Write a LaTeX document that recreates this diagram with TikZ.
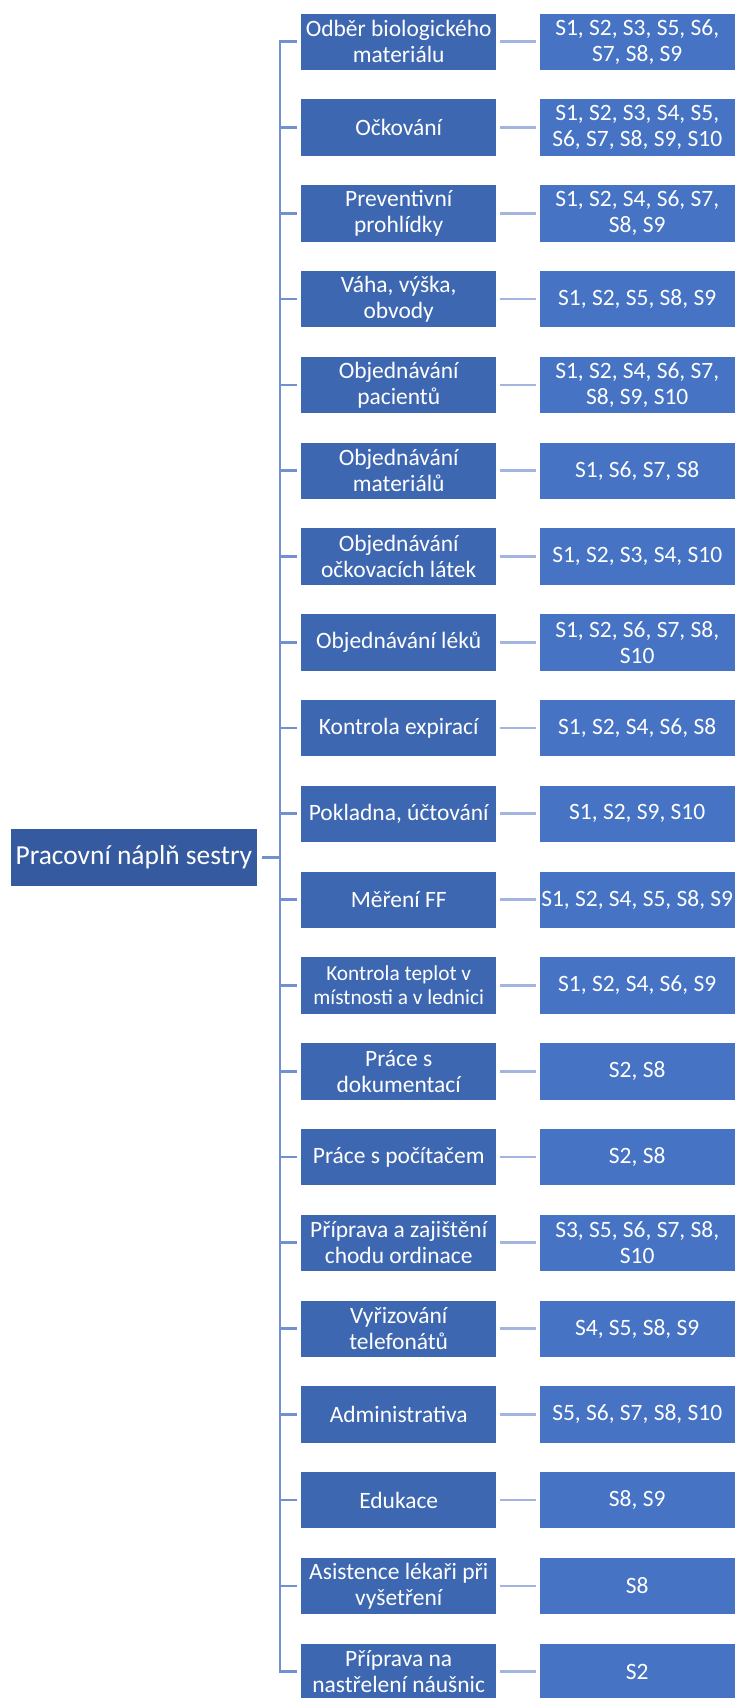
\documentclass[tikz,border=0pt]{standalone}
\usepackage{fontspec}
\setmainfont{Carlito}

\definecolor{rootblue}{HTML}{355A9F}
\definecolor{taskblue}{HTML}{3E67B1}
\definecolor{nurseblue}{HTML}{4673C4}
\definecolor{trunkblue}{HTML}{7090D0}
\definecolor{linkblue}{HTML}{A3B5DF}

\tikzset{
  rootbox/.style={fill=rootblue, draw=white, line width=0.5pt, text=white, inner sep=0pt,
    minimum width=185.8pt, minimum height=43.3pt, font=\fontsize{20.6}{24}\selectfont},
  taskbox/.style={fill=taskblue, draw=white, line width=0.5pt, text=white, inner sep=0pt,
    minimum width=147pt, minimum height=43pt, align=center, font=\fontsize{17.6}{19.5}\selectfont},
  nursebox/.style={taskbox, fill=nurseblue},
  trunk/.style={draw=trunkblue, line width=2pt},
  link/.style={draw=linkblue, line width=2pt, shorten <=2pt, shorten >=2.5pt},
}

\begin{document}
\begin{tikzpicture}[x=0.75pt,y=0.75pt,yscale=-1,xscale=1]
\useasboundingbox (0,0) rectangle (736,1698);

% Root
\node[rootbox] (root) at (133.9,857.2) {Pracovní náplň sestry};
\coordinate (fork) at (280,857.2);
\draw[trunk, shorten <=3pt] (root.east) -- (fork);

% Text Node
\node[taskbox] (t1) at (398.7,41.7) {Odběr biologického\\materiálu};
\node[nursebox] (s1) at (637.2,41.7) {S1, S2, S3, S5, S6,\\S7, S8, S9};
% Text Node
\node[taskbox] (t2) at (398.7,127.5) {Očkování};
\node[nursebox] (s2) at (637.2,127.5) {S1, S2, S3, S4, S5,\\S6, S7, S8, S9, S10};
% Text Node
\node[taskbox] (t3) at (398.7,213.3) {Preventivní\\prohlídky};
\node[nursebox] (s3) at (637.2,213.3) {S1, S2, S4, S6, S7,\\S8, S9};
% Text Node
\node[taskbox] (t4) at (398.7,299.1) {Váha, výška,\\obvody};
\node[nursebox] (s4) at (637.2,299.1) {S1, S2, S5, S8, S9};
% Text Node
\node[taskbox] (t5) at (398.7,384.9) {Objednávání\\pacientů};
\node[nursebox] (s5) at (637.2,384.9) {S1, S2, S4, S6, S7,\\S8, S9, S10};
% Text Node
\node[taskbox] (t6) at (398.7,470.7) {Objednávání\\materiálů};
\node[nursebox] (s6) at (637.2,470.7) {S1, S6, S7, S8};
% Text Node
\node[taskbox] (t7) at (398.7,556.4) {Objednávání\\očkovacích látek};
\node[nursebox] (s7) at (637.2,556.4) {S1, S2, S3, S4, S10};
% Text Node
\node[taskbox] (t8) at (398.7,642.2) {Objednávání léků};
\node[nursebox] (s8) at (637.2,642.2) {S1, S2, S6, S7, S8,\\S10};
% Text Node
\node[taskbox] (t9) at (398.7,728.0) {Kontrola expirací};
\node[nursebox] (s9) at (637.2,728.0) {S1, S2, S4, S6, S8};
% Text Node
\node[taskbox] (t10) at (398.7,813.8) {Pokladna, účtování};
\node[nursebox] (s10) at (637.2,813.8) {S1, S2, S9, S10};
% Text Node
\node[taskbox] (t11) at (398.7,899.6) {Měření FF};
\node[nursebox] (s11) at (637.2,899.6) {S1, S2, S4, S5, S8, S9};
% Text Node
\node[taskbox, font=\fontsize{16}{18}\selectfont] (t12) at (398.7,985.4) {Kontrola teplot v\\místnosti a v lednici};
\node[nursebox] (s12) at (637.2,985.4) {S1, S2, S4, S6, S9};
% Text Node
\node[taskbox] (t13) at (398.7,1071.2) {Práce s\\dokumentací};
\node[nursebox] (s13) at (637.2,1071.2) {S2, S8};
% Text Node
\node[taskbox] (t14) at (398.7,1157.0) {Práce s počítačem};
\node[nursebox] (s14) at (637.2,1157.0) {S2, S8};
% Text Node
\node[taskbox] (t15) at (398.7,1242.8) {Příprava a zajištění\\chodu ordinace};
\node[nursebox] (s15) at (637.2,1242.8) {S3, S5, S6, S7, S8,\\S10};
% Text Node
\node[taskbox] (t16) at (398.7,1328.6) {Vyřizování\\telefonátů};
\node[nursebox] (s16) at (637.2,1328.6) {S4, S5, S8, S9};
% Text Node
\node[taskbox] (t17) at (398.7,1414.3) {Administrativa};
\node[nursebox] (s17) at (637.2,1414.3) {S5, S6, S7, S8, S10};
% Text Node
\node[taskbox] (t18) at (398.7,1500.1) {Edukace};
\node[nursebox] (s18) at (637.2,1500.1) {S8, S9};
% Text Node
\node[taskbox] (t19) at (398.7,1585.9) {Asistence lékaři při\\vyšetření};
\node[nursebox] (s19) at (637.2,1585.9) {S8};
% Text Node
\node[taskbox] (t20) at (398.7,1671.7) {Příprava na\\nastřelení náušnic};
\node[nursebox] (s20) at (637.2,1671.7) {S2};

% Connectors
\draw[trunk, shorten >=2.8pt] (fork) |- (t1.west);   \draw[link] (t1) -- (s1);
\draw[trunk, shorten >=2.8pt] (fork) |- (t2.west);   \draw[link] (t2) -- (s2);
\draw[trunk, shorten >=2.8pt] (fork) |- (t3.west);   \draw[link] (t3) -- (s3);
\draw[trunk, shorten >=2.8pt] (fork) |- (t4.west);   \draw[link] (t4) -- (s4);
\draw[trunk, shorten >=2.8pt] (fork) |- (t5.west);   \draw[link] (t5) -- (s5);
\draw[trunk, shorten >=2.8pt] (fork) |- (t6.west);   \draw[link] (t6) -- (s6);
\draw[trunk, shorten >=2.8pt] (fork) |- (t7.west);   \draw[link] (t7) -- (s7);
\draw[trunk, shorten >=2.8pt] (fork) |- (t8.west);   \draw[link] (t8) -- (s8);
\draw[trunk, shorten >=2.8pt] (fork) |- (t9.west);   \draw[link] (t9) -- (s9);
\draw[trunk, shorten >=2.8pt] (fork) |- (t10.west);  \draw[link] (t10) -- (s10);
\draw[trunk, shorten >=2.8pt] (fork) |- (t11.west);  \draw[link] (t11) -- (s11);
\draw[trunk, shorten >=2.8pt] (fork) |- (t12.west);  \draw[link] (t12) -- (s12);
\draw[trunk, shorten >=2.8pt] (fork) |- (t13.west);  \draw[link] (t13) -- (s13);
\draw[trunk, shorten >=2.8pt] (fork) |- (t14.west);  \draw[link] (t14) -- (s14);
\draw[trunk, shorten >=2.8pt] (fork) |- (t15.west);  \draw[link] (t15) -- (s15);
\draw[trunk, shorten >=2.8pt] (fork) |- (t16.west);  \draw[link] (t16) -- (s16);
\draw[trunk, shorten >=2.8pt] (fork) |- (t17.west);  \draw[link] (t17) -- (s17);
\draw[trunk, shorten >=2.8pt] (fork) |- (t18.west);  \draw[link] (t18) -- (s18);
\draw[trunk, shorten >=2.8pt] (fork) |- (t19.west);  \draw[link] (t19) -- (s19);
\draw[trunk, shorten >=2.8pt] (fork) |- (t20.west);  \draw[link] (t20) -- (s20);

\end{tikzpicture}
\end{document}
